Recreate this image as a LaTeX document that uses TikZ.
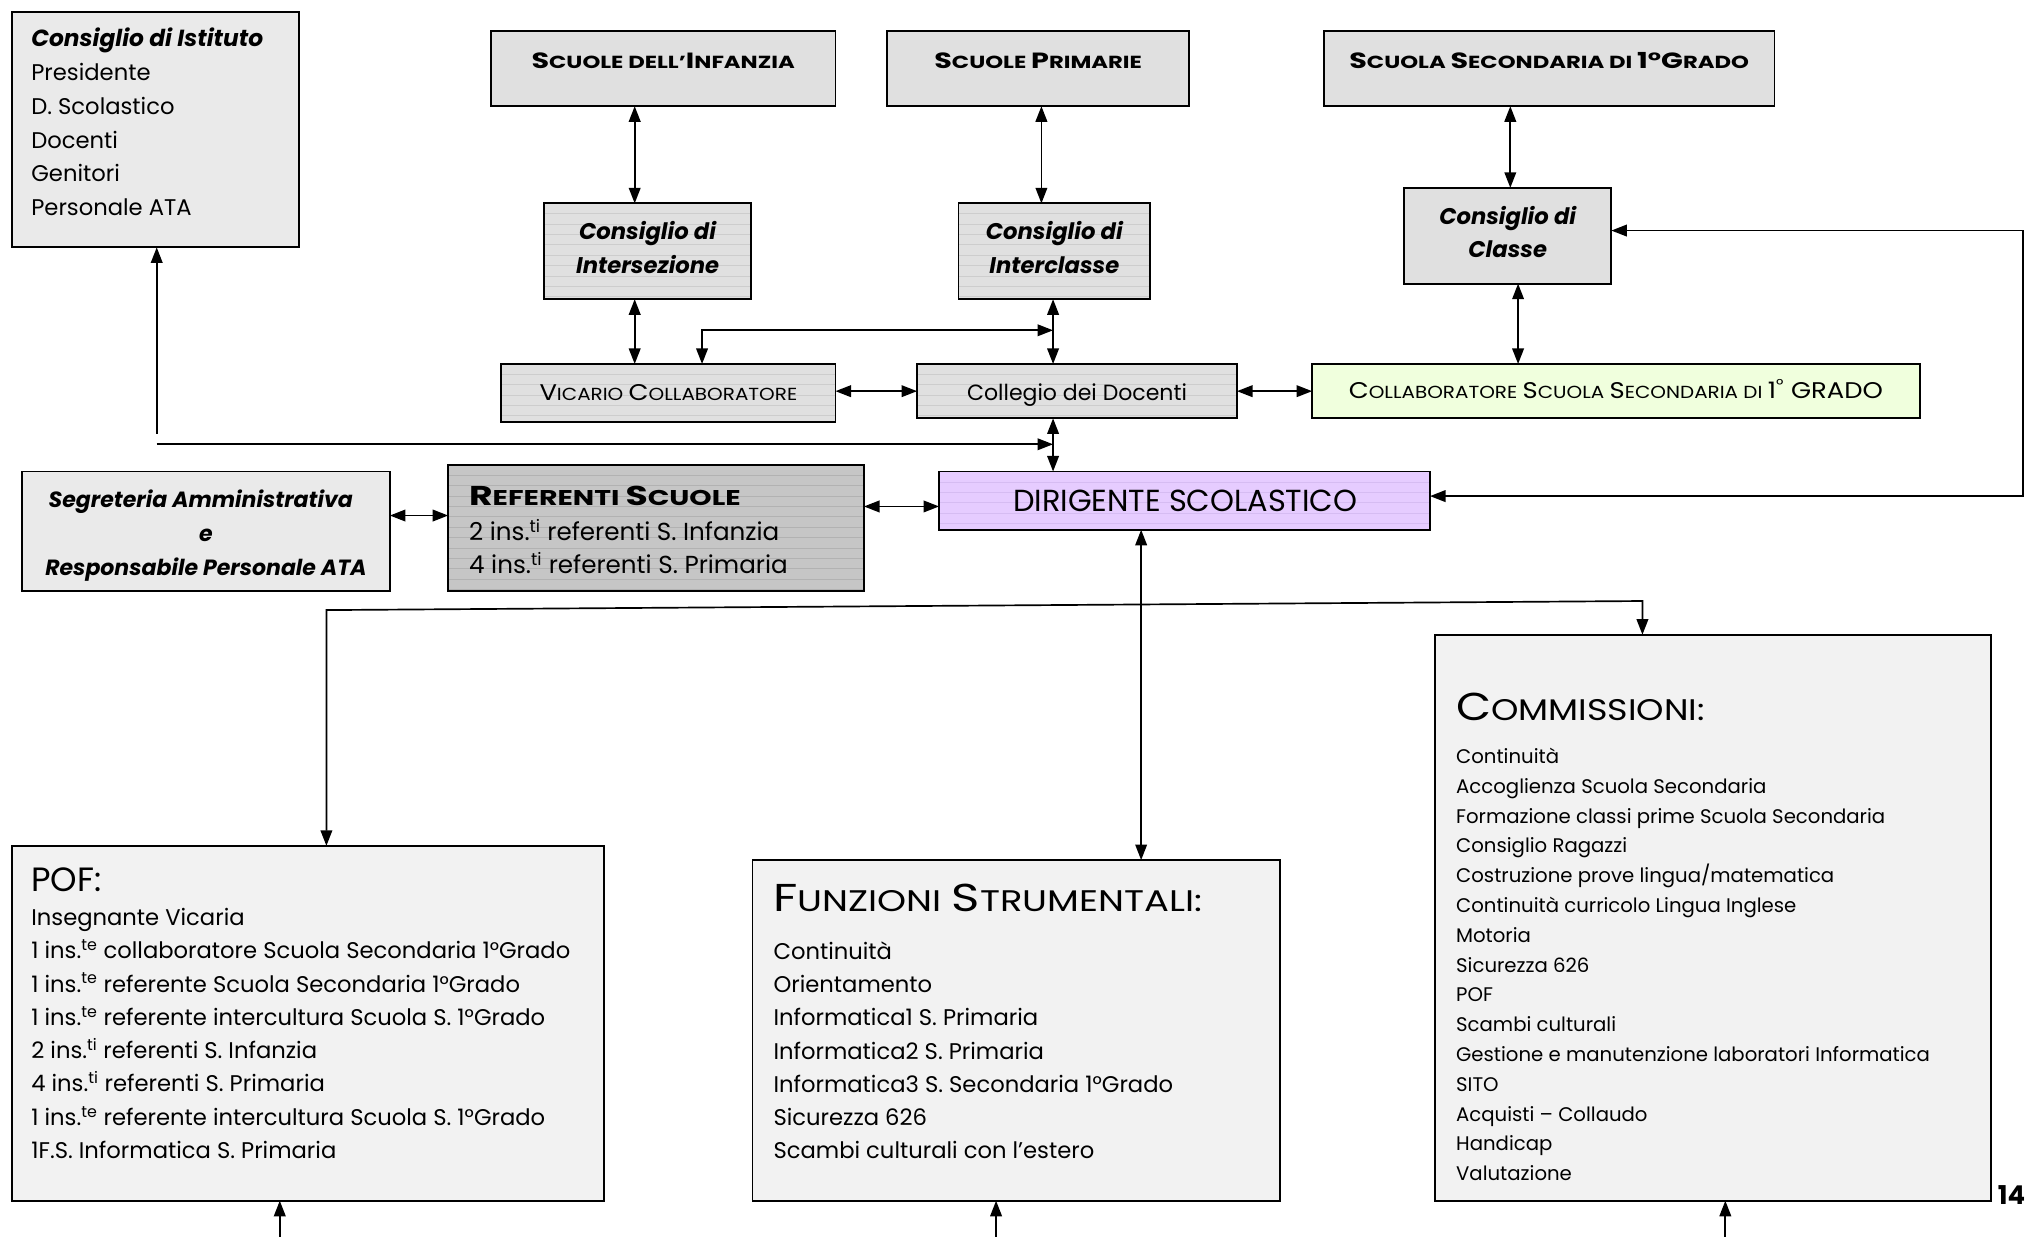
\documentclass[tikz,border=0pt]{standalone}
\usepackage{fontspec}
\setmainfont{Poppins}
\usepackage{graphicx}
\usetikzlibrary{arrows.meta}
\definecolor{boxA}{HTML}{EAEAEA}
\definecolor{boxB}{HTML}{E0E0E0}
\definecolor{lineB}{HTML}{CDCDCD}
\definecolor{boxRef}{HTML}{C6C6C6}
\definecolor{lineRef}{HTML}{B2B2B2}
\definecolor{boxDir}{HTML}{E6CCFF}
\definecolor{lineDir}{HTML}{D6BCF2}
\definecolor{boxGreen}{HTML}{F0FFDD}
\definecolor{boxLight}{HTML}{F2F2F2}
\newcommand\smc[2]{{\fontsize{#1}{#1}\selectfont #2}}
\newcommand\hs[2]{\scalebox{#1}[1]{#2}}
\tikzset{
  x=1pt, y=-1pt,
  box/.style={draw=black, line width=1.4pt, inner sep=0pt, outer sep=0pt},
  lined/.style={path picture={\foreach \k in {1,...,13}{\draw[#1, line width=0.5pt] ([yshift=-\k*8pt]path picture bounding box.north west) -- ([yshift=-\k*8pt]path picture bounding box.north east);}}},
  txt/.style={inner sep=0pt, anchor=base west},
  ctxt/.style={inner sep=0pt, anchor=base},
  body/.style={font=\fontsize{17.5}{20}\selectfont},
  bodybi/.style={font=\fontsize{17.5}{20}\selectfont\bfseries\itshape},
  tip/.tip={Triangle[length=12pt,width=9pt]},
  conn/.style={line width=1.3pt, -tip},
  biconn/.style={line width=1.3pt, tip-tip},
}
\begin{document}
\begin{tikzpicture}
\useasboundingbox (0,0) rectangle (1568,955);

% ---------- boxes ----------
\node[box, fill=boxA, minimum width=222pt, minimum height=182pt] (ist) at (120,100) {};
\node[box, fill=boxB, minimum width=266pt, minimum height=58pt] (inf) at (512,53) {};
\node[box, fill=boxB, minimum width=233pt, minimum height=58pt] (pri) at (801.5,53) {};
\node[box, fill=boxB, minimum width=348pt, minimum height=58pt] (sec) at (1196,53) {};
\node[box, fill=boxB, lined=lineB, minimum width=160pt, minimum height=74pt] (inter) at (500,194) {};
\node[box, fill=boxB, lined=lineB, minimum width=148pt, minimum height=74pt] (intercl) at (814,194) {};
\node[box, fill=boxB, minimum width=160pt, minimum height=74pt] (classe) at (1164,182) {};
\node[box, fill=boxB, lined=lineB, minimum width=258pt, minimum height=45pt] (vic) at (516,303.5) {};
\node[box, fill=boxB, lined=lineB, minimum width=247pt, minimum height=42pt] (coll) at (831.5,302) {};
\node[box, fill=boxGreen, minimum width=469pt, minimum height=42pt] (collab) at (1247.5,302) {};
\node[box, fill=boxA, minimum width=284pt, minimum height=92pt] (seg) at (159,410) {};
\node[box, fill=boxRef, lined=lineRef, minimum width=321pt, minimum height=97pt] (ref) at (506.5,407.5) {};
\node[box, fill=boxDir, lined=lineDir, minimum width=379pt, minimum height=45pt] (dir) at (914.5,386.5) {};
\node[box, fill=boxLight, minimum width=457pt, minimum height=274pt] (pof) at (237.5,790) {};
\node[box, fill=boxLight, minimum width=407pt, minimum height=263pt] (fun) at (784.5,795.5) {};
\node[box, fill=boxLight, minimum width=429pt, minimum height=437pt] (com) at (1322.5,708.5) {};

% ---------- texts ----------
\node[txt, font=\fontsize{18}{20}\selectfont\bfseries\itshape] (ist-t) at (24,36) {Consiglio di Istituto};
\foreach \t [count=\i] in {Presidente, D. Scolastico, Docenti, Genitori, Personale ATA}
  \node[txt, body] (ist-\i) at (24,{36.5+26*\i}) {\t};

\node[ctxt, font=\bfseries] (inf-t) at (512,53) {\hs{1.3}{\smc{17}{S}\smc{13.5}{CUOLE DELL’}\smc{17}{I}\smc{13.5}{NFANZIA}}};
\node[ctxt, font=\bfseries] (pri-t) at (801.5,53) {\hs{1.3}{\smc{17}{S}\smc{13.5}{CUOLE }\smc{17}{P}\smc{13.5}{RIMARIE}}};
\node[ctxt, font=\bfseries] (sec-t) at (1196,53) {\hs{1.3}{\smc{17}{S}\smc{13.5}{CUOLA }\smc{17}{S}\smc{13.5}{ECONDARIA DI }\smc{17}{1°G}\smc{13.5}{RADO}}};

\node[ctxt, bodybi] (inter-t1) at (500,185) {Consiglio di};
\node[ctxt, bodybi] (inter-t2) at (500,211) {Intersezione};
\node[ctxt, bodybi] (intercl-t1) at (814,185) {Consiglio di};
\node[ctxt, bodybi] (intercl-t2) at (814,211) {Interclasse};
\node[ctxt, bodybi] (classe-t1) at (1164,173) {Consiglio di};
\node[ctxt, bodybi] (classe-t2) at (1164,199) {Classe};

\node[ctxt] (vic-t) at (516,309) {\hs{1.14}{\smc{17.5}{V}\smc{13.5}{ICARIO }\smc{17.5}{C}\smc{13.5}{OLLABORATORE}}};
\node[ctxt, font=\fontsize{17}{20}\selectfont] (coll-t) at (831.5,309) {Collegio dei Docenti};
\node[ctxt] (collab-t) at (1247.5,308) {\hs{1.14}{\smc{17.5}{C}\smc{13.5}{OLLABORATORE }\smc{17.5}{S}\smc{13.5}{CUOLA }\smc{17.5}{S}\smc{13.5}{ECONDARIA DI }\smc{17.5}{1\textsuperscript{°} GRADO}}};

\node[ctxt, font=\fontsize{17}{20}\selectfont\bfseries\itshape] (seg-t1) at (155,392) {Segreteria Amministrativa};
\node[ctxt, font=\fontsize{17}{20}\selectfont\bfseries\itshape] (seg-t2) at (159,418) {e};
\node[ctxt, font=\fontsize{17}{20}\selectfont\bfseries\itshape] (seg-t3) at (159,444) {Responsabile Personale ATA};

\node[txt, font=\bfseries] (ref-t) at (362,390) {\hs{1.33}{\smc{21}{R}\smc{16.5}{EFERENTI }\smc{21}{S}\smc{16.5}{CUOLE}}};
\node[txt, font=\fontsize{19}{21}\selectfont] (ref-1) at (362,417) {2 ins.\textsuperscript{ti} referenti S. Infanzia};
\node[txt, font=\fontsize{19}{21}\selectfont] (ref-2) at (362,443) {4 ins.\textsuperscript{ti} referenti S. Primaria};

\node[ctxt, font=\fontsize{23.5}{25}\selectfont] (dir-t) at (915,395) {DIRIGENTE SCOLASTICO};

\node[txt, font=\fontsize{26}{28}\selectfont] (pof-t) at (24,688) {POF:};
\foreach \t [count=\i] in {Insegnante Vicaria,
  1 ins.\textsuperscript{te} collaboratore Scuola Secondaria 1°Grado,
  1 ins.\textsuperscript{te} referente Scuola Secondaria 1°Grado,
  1 ins.\textsuperscript{te} referente intercultura Scuola S. 1°Grado,
  2 ins.\textsuperscript{ti} referenti S. Infanzia,
  4 ins.\textsuperscript{ti} referenti S. Primaria,
  1 ins.\textsuperscript{te} referente intercultura Scuola S. 1°Grado,
  1F.S. Informatica S. Primaria}
  \node[txt, font=\fontsize{17.5}{20}\selectfont] (pof-\i) at (24,{714.5+25.7*(\i-1)}) {\t};

\node[txt] (fun-t) at (597,704) {\hs{1.24}{\smc{30}{F}\smc{23}{UNZIONI }\smc{30}{S}\smc{23}{TRUMENTALI:}}};
\foreach \t [count=\i] in {Continuità, Orientamento, Informatica1 S. Primaria, Informatica2 S. Primaria,
  Informatica3 S. Secondaria 1°Grado, Sicurezza 626, Scambi culturali con l’estero}
  \node[txt, body] (fun-\i) at (597,{740.5+25.7*(\i-1)}) {\t};

\node[txt] (com-t) at (1124,556) {\hs{1.17}{\smc{30}{C}\smc{23}{OMMISSIONI:}}};
\foreach \t [count=\i] in {Continuità, Accoglienza Scuola Secondaria, Formazione classi prime Scuola Secondaria,
  Consiglio Ragazzi, Costruzione prove lingua/matematica, Continuità curricolo Lingua Inglese, Motoria,
  Sicurezza 626, POF, Scambi culturali, Gestione e manutenzione laboratori Informatica, SITO,
  Acquisti – Collaudo, Handicap, Valutazione}
  \node[txt, font=\fontsize{15.2}{17}\selectfont] (com-\i) at (1124,{589.5+23*(\i-1)}) {\t};

\node[ctxt, font=\fontsize{20}{22}\selectfont\bfseries] (pg) at (1553,930) {14};

% ---------- connector points ----------
\coordinate (j1) at (813,255);
\coordinate (a1) at (121,335);
\coordinate (a2) at (121,343);
\coordinate (j2) at (813,343);
\coordinate (r1) at (1562,178);
\coordinate (r2) at (1562,383);
\coordinate (b1) at (252,471);
\coordinate (b2) at (1268,464);
\coordinate (e1) at (216,955);
\coordinate (e2) at (769,955);
\coordinate (e3) at (1332,955);

% ---------- connectors ----------
\draw[biconn] (inf.south -| 490,0) -- (inter.north -| 490,0);
\draw[biconn] (pri.south -| 804,0) -- (intercl.north -| 804,0);
\draw[biconn] (sec.south -| 1166,0) -- (classe.north -| 1166,0);
\draw[biconn] (inter.south -| 490,0) -- (vic.north -| 490,0);
\draw[biconn] (intercl.south -| 813,0) -- (coll.north -| 813,0);
\draw[biconn] (vic.north -| 542,0) |- (j1);
\draw[biconn] (vic.east |- 0,302) -- (coll.west |- 0,302);
\draw[biconn] (coll.east |- 0,302) -- (collab.west |- 0,302);
\draw[biconn] (classe.south -| 1172,0) -- (collab.north -| 1172,0);
\draw[biconn] (coll.south -| 813,0) -- (dir.north -| 813,0);
\draw[conn] (a1) -- (ist.south -| a1);
\draw[conn] (a2) -- (j2);
\draw[biconn] (seg.east |- 0,398) -- (ref.west |- 0,398);
\draw[biconn] (ref.east |- 0,391) -- (dir.west |- 0,391);
\draw[biconn] (classe.east |- r1) -- (r1) -- (r2) -- (dir.east |- r2);
\draw[biconn] (dir.south -| 881,0) -- (fun.north -| 881,0);
\draw[biconn] (pof.north -| b1) -- (b1) -- (b2) -- (com.north -| b2);
\draw[conn] (e1) -- (pof.south -| e1);
\draw[conn] (e2) -- (fun.south -| e2);
\draw[conn] (e3) -- (com.south -| e3);
\end{tikzpicture}
\end{document}
